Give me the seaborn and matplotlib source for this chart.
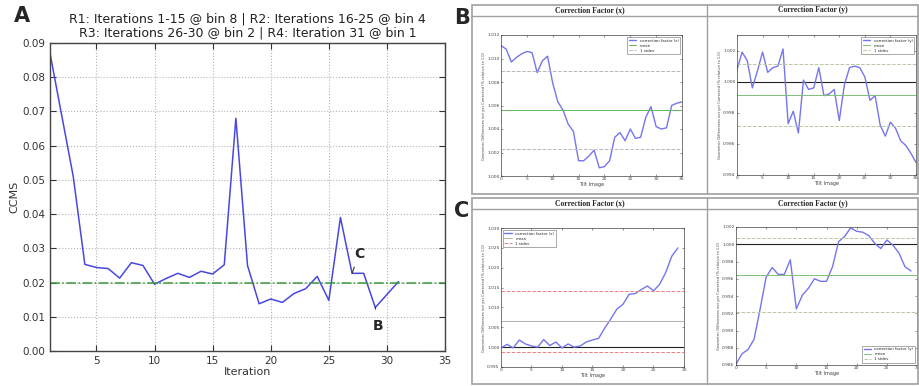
import numpy as np
import matplotlib
matplotlib.use('Agg')
import matplotlib.pyplot as plt
import seaborn as sns
from matplotlib.patches import Rectangle
from matplotlib.lines import Line2D

# ---- data ----
iterations = list(range(1, 32))
ccms = [0.087, 0.069, 0.051, 0.0253, 0.0244, 0.0241, 0.0213, 0.0258, 0.0250, 0.0195,
        0.0212, 0.0227, 0.0215, 0.0233, 0.0225, 0.0252, 0.0680, 0.0250, 0.0138, 0.0152,
        0.0142, 0.0168, 0.0182, 0.0218, 0.0148, 0.0390, 0.0227, 0.0227, 0.0127, 0.0165,
        0.0203]
ccms_target = 0.02

b_x = [1.0111, 1.0108, 1.0097, 1.0101, 1.0104, 1.0106, 1.0105, 1.0088, 1.0098, 1.0102,
       1.0079, 1.0063, 1.0056, 1.0044, 1.0038, 1.0013, 1.0013, 1.0017, 1.0022, 1.0007,
       1.0008, 1.0013, 1.0033, 1.0037, 1.0030, 1.0040, 1.0032, 1.0033, 1.0050, 1.0059,
       1.0042, 1.0040, 1.0041, 1.0060, 1.0062, 1.0063]
b_y = [1.00077, 1.0019, 1.00135, 0.9996, 1.0007, 1.0019, 1.0006, 1.0009, 1.0010, 1.0021,
       0.9973, 0.9981, 0.9967, 1.0001, 0.9995, 0.9996, 1.0009, 0.9991, 0.9992, 0.9995,
       0.9975, 0.9998, 1.0009, 1.0010, 1.0009, 1.0003, 0.9988, 0.9991, 0.9972, 0.9965,
       0.9974, 0.9970, 0.9962, 0.9959, 0.9954, 0.9948]
c_x = [0.9998, 1.0007, 0.9998, 1.0018, 1.0008, 1.0003, 1.0000, 1.0019, 1.0004, 1.0013,
       0.9998, 1.0008, 1.0000, 1.0003, 1.0013, 1.0018, 1.0022, 1.0048, 1.0071, 1.0096,
       1.0108, 1.0133, 1.0135, 1.0145, 1.0154, 1.0142, 1.0158, 1.0188, 1.0229, 1.0250]
c_y = [0.9861, 0.9873, 0.9878, 0.9890, 0.9925, 0.9962, 0.9973, 0.9965, 0.9965, 0.9982,
       0.9925, 0.9941, 0.9949, 0.9960, 0.9957, 0.9957, 0.9974, 1.0003, 1.0009, 1.0019,
       1.0015, 1.0014, 1.0010, 1.0001, 0.9995, 1.0005, 0.9999, 0.9990, 0.9974, 0.9969]

# mean / stdev lines per panel
b_x_stats = (1.0056, 1.0089, 1.0023)
b_y_stats = (0.99912, 1.00116, 0.99718)
c_x_stats = (1.0065, 1.0142, 0.9988)
c_y_stats = (0.99646, 1.0007, 0.9922)

W, H = 919, 386
sns.set_style('ticks')
plt.rcParams['font.family'] = ['DejaVu Sans']
fig = plt.figure(figsize=(W / 100, H / 100), dpi=100)


def box(l, t, r, b):
    # pixel box -> figure rect
    return [l / W, 1 - b / H, (r - l) / W, (b - t) / H]


def fx(x):
    return x / W


def fy(y):
    return 1 - y / H


# ---- panel A ----
ax = fig.add_axes(box(50, 43, 445, 351))
sns.lineplot(x=iterations, y=ccms, ax=ax, color='#4848e0', linewidth=1.1)
ax.axhline(ccms_target, color='#3c9a3c', linestyle='-.', linewidth=1.1)
ax.set_xlim(1, 35)
ax.set_ylim(0, 0.09)
ax.set_xticks([5, 10, 15, 20, 25, 30, 35])
ax.set_yticks(np.arange(0, 0.091, 0.01))
ax.yaxis.set_major_formatter(plt.FormatStrFormatter('%.2f'))
ax.tick_params(direction='in', top=True, right=True, labelsize=7.5, colors='#333333',
               length=4)
ax.grid(True, linestyle=':', color='#b4b4b4', linewidth=0.8)
for s in ax.spines.values():
    s.set_color('#444444')
    s.set_linewidth(1.0)
ax.set_xlabel('Iteration', fontsize=8, color='#333333', labelpad=1)
ax.set_ylabel('CCMS', fontsize=8, color='#333333', labelpad=2)
ax.set_title('R1: Iterations 1-15 @ bin 8 | R2: Iterations 16-25 @ bin 4\n'
             'R3: Iterations 26-30 @ bin 2 | R4: Iteration 31 @ bin 1',
             fontsize=9, color='#222222', pad=5, linespacing=1.1)
ax.annotate('C', xy=(27, ccms[26]), xytext=(27.6, 0.0283), fontsize=10,
            fontweight='bold', ha='center', va='center',
            arrowprops=dict(arrowstyle='-', color='#333333', lw=0.8,
                            shrinkA=2, shrinkB=0))
ax.annotate('B', xy=(29, ccms[28]), xytext=(29.2, 0.0072), fontsize=10,
            fontweight='bold', ha='center', va='center',
            arrowprops=dict(arrowstyle='-', color='#333333', lw=0.8,
                            shrinkA=5, shrinkB=0))

fig.text(fx(22), fy(16), 'A', fontsize=15, fontweight='bold', ha='center', va='center')
fig.text(fx(462), fy(18), 'B', fontsize=15, fontweight='bold', ha='center', va='center')
fig.text(fx(462), fy(211), 'C', fontsize=15, fontweight='bold', ha='center', va='center')

# ---- frames for B and C ----
frame_col = '#a0a0a0'
for top, bot, bar in [(5, 194, 16), (198, 384, 209)]:
    fig.add_artist(Rectangle((fx(472), fy(bot)), fx(919) - fx(472) - 0.001, fy(top) - fy(bot),
                             transform=fig.transFigure, fill=False,
                             edgecolor=frame_col, linewidth=1.2))
    fig.add_artist(Line2D([fx(472), fx(919)], [fy(bar), fy(bar)],
                          transform=fig.transFigure, color=frame_col, linewidth=1.0))
    fig.add_artist(Line2D([fx(707), fx(707)], [fy(top), fy(bot)],
                          transform=fig.transFigure, color=frame_col, linewidth=1.0))
    fig.text(fx(590), fy((top + bar) / 2), 'Correction Factor (x)', fontsize=5.5,
             fontweight='bold', family='Liberation Serif', ha='center', va='center')
    fig.text(fx(813), fy((top + bar) / 2), 'Correction Factor (y)', fontsize=5.5,
             fontweight='bold', family='Liberation Serif', ha='center', va='center')

ylab = 'Geometric Differences not yet Corrected (% relative to 1.0)'


def small_panel(rect, values, stats, xmax, ylim, yticks, yfmt, legend_loc,
                label, mean_col, sd_col, unity=True):
    a = fig.add_axes(box(*rect))
    xs = list(range(len(values)))
    sns.lineplot(x=xs, y=values, ax=a, color='#7575ee', linewidth=1.0,
                 label=label)
    a.axhline(stats[0], color=mean_col, linewidth=0.7, label='mean')
    a.axhline(stats[1], color=sd_col, linewidth=0.7, linestyle='--', label='1 stdev')
    a.axhline(stats[2], color=sd_col, linewidth=0.7, linestyle='--')
    if unity:
        a.axhline(1.0, color='#222222', linewidth=0.8, zorder=1)
    a.set_xlim(0, xmax)
    a.set_ylim(*ylim)
    a.set_xticks(list(range(0, xmax + 1, 5)))
    a.set_yticks(yticks)
    a.yaxis.set_major_formatter(plt.FormatStrFormatter(yfmt))
    a.tick_params(direction='in', top=True, right=True, labelsize=3.2, length=1.5,
                  width=0.4, pad=1, colors='#444444')
    for s in a.spines.values():
        s.set_linewidth(0.5)
        s.set_color('#444444')
    a.set_xlabel('Tilt Image', fontsize=3.6, labelpad=0.5, color='#444444')
    a.set_ylabel(ylab, fontsize=2.6, labelpad=1, color='#444444')
    leg = a.legend(loc=legend_loc, fontsize=2.8, frameon=True, fancybox=False,
                   handlelength=2, borderpad=0.4, labelspacing=0.3)
    leg.get_frame().set_linewidth(0.4)
    leg.get_frame().set_edgecolor('#444444')
    return a


small_panel((501, 35, 682, 176), b_x, b_x_stats, 35, (1.000, 1.012),
            np.arange(1.000, 1.0121, 0.002), '%.3f', 'upper right',
            'correction factor (x)', '#5cb85c', '#b8b8b8', unity=False)
small_panel((737, 35, 916, 175), b_y, b_y_stats, 35, (0.994, 1.003),
            np.arange(0.994, 1.0021, 0.002), '%.3f', 'upper right',
            'correction factor (y)', '#7cc07c', '#b8c8a0')
small_panel((501, 228, 684, 367), c_x, c_x_stats, 30, (0.995, 1.030),
            np.arange(0.995, 1.0301, 0.005), '%.3f', 'upper left',
            'correction factor (x)', '#b0b0b0', '#f08080')
small_panel((736, 227, 917, 365), c_y, c_y_stats, 30, (0.986, 1.002),
            np.arange(0.986, 1.0021, 0.002), '%.3f', 'lower right',
            'correction factor (y)', '#7cc07c', '#b8c8a0')

fig.savefig('out.png', dpi=100)
